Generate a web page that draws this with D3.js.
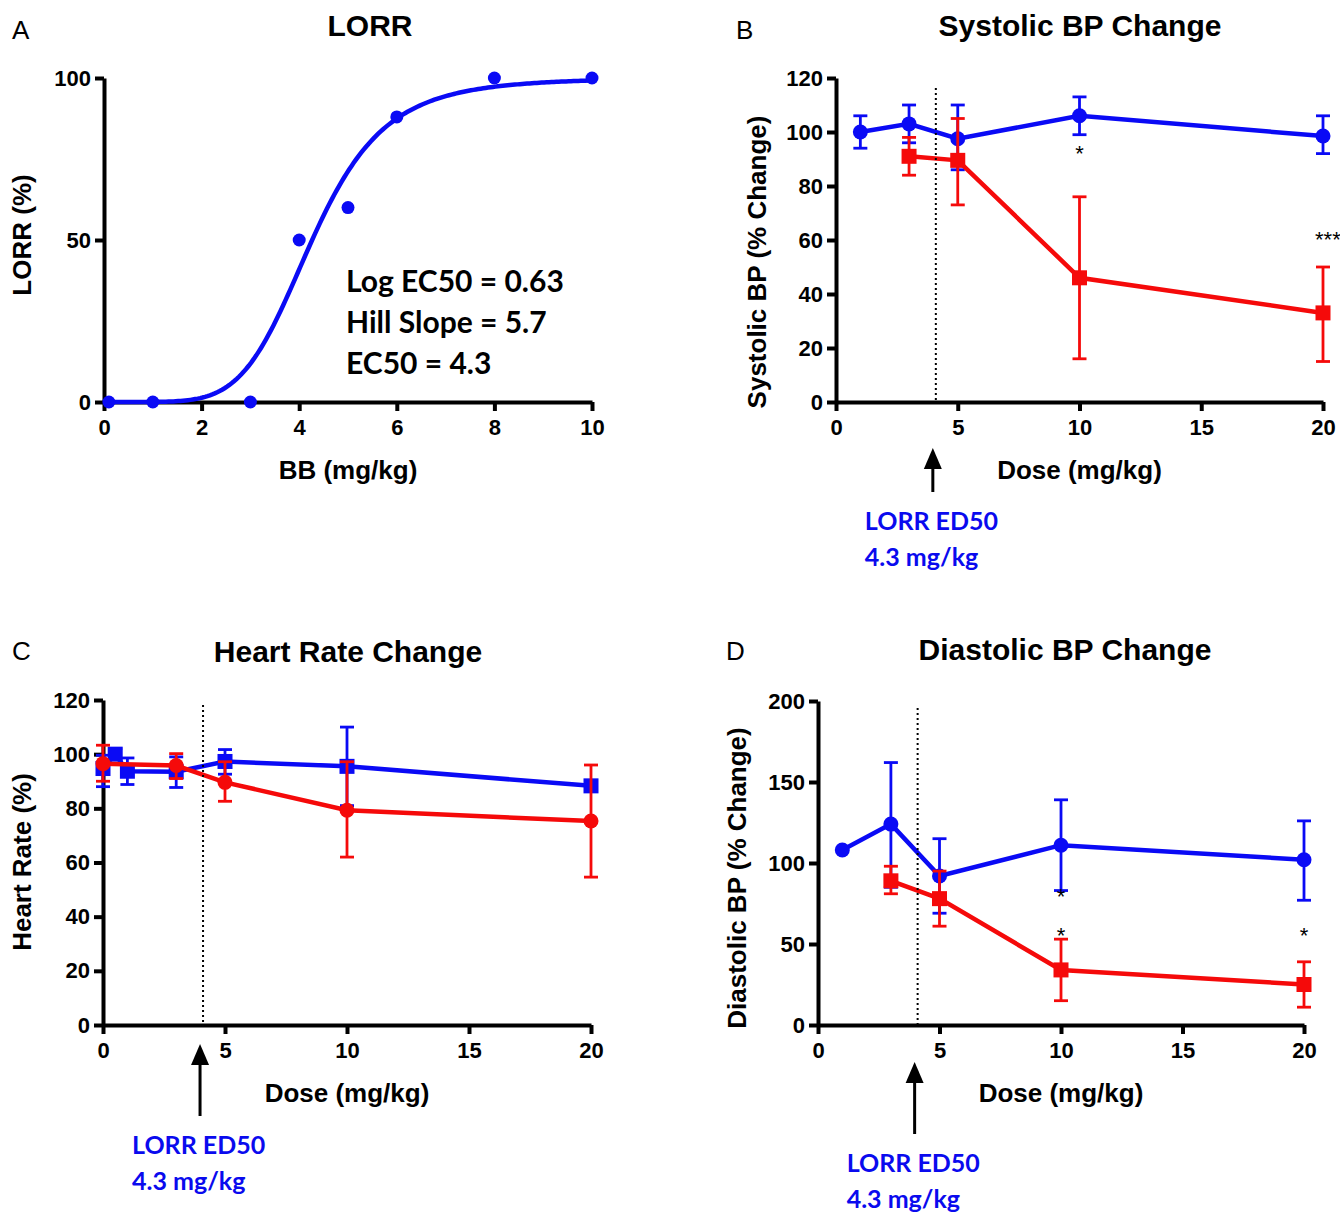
<!DOCTYPE html>
<html><head><meta charset="utf-8">
<script src="https://cdn.jsdelivr.net/npm/d3@7"></script>
<style>body{margin:0;background:#fff}</style>
</head><body>
<svg id="c" width="1340" height="1218"></svg>
<script>
// ---- Data ----
// Panel A: LORR dose response
const lorrDose = [0.1, 1, 3, 4, 5, 6, 8, 10];
const lorrPct = [0, 0, 0, 50, 60, 88, 100, 100];
const logEC50 = 0.63, hillSlope = 5.7;
const annotA = ["Log EC50 = 0.63", "Hill Slope = 5.7", "EC50 = 4.3"];
const ticksA_x = [0, 2, 4, 6, 8, 10];
const ticksA_y = [0, 50, 100];

// Panel B: Systolic BP
const sysDoseBlue = [1, 3, 5, 10, 20];
const sysBlue = [100, 103, 97.5, 106, 98.5];
const sysBlueLo = [94, 96, 86, 99, 92];
const sysBlueHi = [106, 110, 110, 113, 106];
const sysDoseRed = [3, 5, 10, 20];
const sysRed = [91, 89.5, 46, 33];
const sysRedLo = [84, 73, 16, 15];
const sysRedHi = [98, 105, 76, 50];
const sysStars = [{x: 10, y: 95, t: "*"}, {x: 20.2, y: 63, t: "***"}];

// Panel C: Heart rate
const hrDoseBlue = [0, 0.5, 1, 3, 5, 10, 20];
const hrBlue = [94.7, 100, 93.7, 93.5, 97.3, 95.5, 88.3];
const hrBlueLo = [88, 98, 88.8, 87.7, 92.6, 81, 88.3];
const hrBlueHi = [99.6, 102, 98.6, 99, 101.7, 110, 88.3];
const hrDoseRed = [0, 3, 5, 10, 20];
const hrRed = [96.5, 95.8, 89.6, 79.3, 75.3];
const hrRedLo = [90, 91, 82.6, 62, 54.6];
const hrRedHi = [103.3, 100.2, 97.2, 97.2, 96];

// Panel D: Diastolic BP
const diaDoseBlue = [1, 3, 5, 10, 20];
const diaBlue = [108, 124, 92, 111, 102];
const diaBlueLo = [108, 85, 69, 83, 77];
const diaBlueHi = [108, 162, 115, 139, 126];
const diaDoseRed = [3, 5, 10, 20];
const diaRed = [89, 78, 34, 25];
const diaRedLo = [81, 61, 15, 11];
const diaRedHi = [98, 95, 53, 39];
const diaStars = [{x: 10, y: 84, t: "*"}, {x: 10, y: 60, t: "*"}, {x: 20, y: 60, t: "*"}];

const doseTicks = [0, 5, 10, 15, 20];
const edDose = 4.1;
const edLabel = ["LORR ED50", "4.3 mg/kg"];

// ---- Drawing ----
const svg = d3.select("#c");
const BLUE = "#0a0af5", RED = "#f50a0a";
const FONT = "'Liberation Sans', Arial, sans-serif";
const FONT2 = "Lato, 'Open Sans', sans-serif";

function panel(o) {
  const g = svg.append("g");
  const x = d3.scaleLinear().domain(o.xd).range(o.xr);
  const y = d3.scaleLinear().domain(o.yd).range(o.yr);
  const xa = g.append("g").attr("transform", `translate(0,${o.yr[0]})`)
    .call(d3.axisBottom(x).tickValues(o.xt).tickSize(9).tickSizeOuter(0).tickPadding(5));
  const ya = g.append("g").attr("transform", `translate(${o.xr[0]},0)`)
    .call(d3.axisLeft(y).tickValues(o.yt).tickSize(9).tickSizeOuter(0).tickPadding(4));
  [xa, ya].forEach(a => {
    a.select(".domain").attr("stroke", "#000").attr("stroke-width", 4);
    a.selectAll(".tick line").attr("stroke", "#000").attr("stroke-width", 4);
    a.selectAll(".tick text").attr("fill", "#000").style("font-family", FONT)
      .style("font-weight", "bold").style("font-size", "22px");
  });
  xa.selectAll(".tick text").attr("dy", "0.85em");
  g.append("text").attr("x", o.titleX).attr("y", o.titleY).attr("text-anchor", "middle")
    .style("font-family", FONT).style("font-weight", "bold").style("font-size", "30px").text(o.title);
  g.append("text").attr("x", o.letterX).attr("y", o.letterY)
    .style("font-family", FONT).style("font-size", "26px").text(o.letter);
  g.append("text").attr("x", (o.xr[0] + o.xr[1]) / 2 + (o.xlabDx || 0)).attr("y", o.yr[0] + 77)
    .attr("text-anchor", "middle").style("font-family", FONT).style("font-weight", "bold")
    .style("font-size", "26px").text(o.xlab);
  g.append("text").attr("transform", `translate(${o.ylabX},${o.ylabY}) rotate(-90)`)
    .attr("text-anchor", "middle").style("font-family", FONT).style("font-weight", "bold")
    .style("font-size", "26px").text(o.ylab);
  return {g, x, y};
}

function series(p, xs, ys, lo, hi, color, shape) {
  const {g, x, y} = p;
  const cap = 7;
  const eg = g.append("g").attr("stroke", color).attr("stroke-width", 2.8).attr("fill", "none");
  xs.forEach((d, i) => {
    if (hi[i] - lo[i] < 0.5) return;
    eg.append("line").attr("x1", x(d)).attr("x2", x(d)).attr("y1", y(lo[i])).attr("y2", y(hi[i]));
    eg.append("line").attr("x1", x(d) - cap).attr("x2", x(d) + cap).attr("y1", y(lo[i])).attr("y2", y(lo[i]));
    eg.append("line").attr("x1", x(d) - cap).attr("x2", x(d) + cap).attr("y1", y(hi[i])).attr("y2", y(hi[i]));
  });
  g.append("path").datum(xs.map((d, i) => [d, ys[i]]))
    .attr("d", d3.line().x(d => x(d[0])).y(d => y(d[1])))
    .attr("fill", "none").attr("stroke", color).attr("stroke-width", 4.5);
  xs.forEach((d, i) => {
    if (shape === "circle") {
      g.append("circle").attr("cx", x(d)).attr("cy", y(ys[i])).attr("r", 7.5).attr("fill", color);
    } else {
      g.append("rect").attr("x", x(d) - 7.5).attr("y", y(ys[i]) - 7.5).attr("width", 15).attr("height", 15).attr("fill", color);
    }
  });
}

function edMarker(p, top, arrowTop, arrowBottom) {
  const {g, x, y} = p;
  const xx = x(edDose);
  g.append("line").attr("x1", xx).attr("x2", xx).attr("y1", top).attr("y2", y(0))
    .attr("stroke", "#000").attr("stroke-width", 2).attr("stroke-dasharray", "2,3");
  const ax = xx - 3;
  g.append("line").attr("x1", ax).attr("x2", ax).attr("y1", arrowTop + 18).attr("y2", arrowBottom)
    .attr("stroke", "#000").attr("stroke-width", 3);
  g.append("path").attr("d", `M${ax},${arrowTop} L${ax - 9},${arrowTop + 21} L${ax + 9},${arrowTop + 21} Z`).attr("fill", "#000");
  edLabel.forEach((t, i) => {
    g.append("text").attr("x", ax - 68).attr("y", arrowBottom + 38 + i * 36)
      .style("font-family", FONT2).style("font-weight", "bold").style("font-size", "25px")
      .attr("fill", "#0a0aee").text(t);
  });
}

function stars(p, arr) {
  arr.forEach(s => {
    p.g.append("text").attr("x", p.x(s.x)).attr("y", p.y(s.y)).attr("text-anchor", "middle")
      .attr("dy", "0.7em").style("font-family", FONT).style("font-size", "22px").text(s.t);
  });
}

// Panel A
const pA = panel({xd: [0, 10], xr: [104, 592], yd: [0, 100], yr: [402, 78], xt: ticksA_x, yt: ticksA_y,
  title: "LORR", titleX: 370, titleY: 36, letter: "A", letterX: 12, letterY: 39,
  xlab: "BB (mg/kg)", ylab: "LORR (%)", ylabX: 31, ylabY: 235});
const curve = d3.range(0.02, 10.001, 0.05).map(d => [d, 100 / (1 + Math.pow(10, (logEC50 - Math.log10(d)) * hillSlope))]);
pA.g.append("path").datum(curve).attr("d", d3.line().x(d => pA.x(d[0])).y(d => pA.y(d[1])))
  .attr("fill", "none").attr("stroke", BLUE).attr("stroke-width", 4.5);
lorrDose.forEach((d, i) => pA.g.append("circle").attr("cx", pA.x(d)).attr("cy", pA.y(lorrPct[i])).attr("r", 6.5).attr("fill", BLUE));
annotA.forEach((t, i) => pA.g.append("text").attr("x", 346).attr("y", 292 + i * 41)
  .style("font-family", FONT2).style("font-weight", "bold").style("font-size", "30px").text(t));

// Panel B
const pB = panel({xd: [0, 20], xr: [836, 1323], yd: [0, 120], yr: [402, 78], xt: doseTicks, yt: d3.range(0, 121, 20),
  title: "Systolic BP Change", titleX: 1080, titleY: 36, letter: "B", letterX: 736, letterY: 39,
  xlab: "Dose (mg/kg)", ylab: "Systolic BP (% Change)", ylabX: 766, ylabY: 262});
series(pB, sysDoseBlue, sysBlue, sysBlueLo, sysBlueHi, BLUE, "circle");
series(pB, sysDoseRed, sysRed, sysRedLo, sysRedHi, RED, "square");
stars(pB, sysStars);
edMarker(pB, 88, 448, 492);

// Panel C
const pC = panel({xd: [0, 20], xr: [103, 591], yd: [0, 120], yr: [1025, 700], xt: doseTicks, yt: d3.range(0, 121, 20),
  title: "Heart Rate Change", titleX: 348, titleY: 662, letter: "C", letterX: 12, letterY: 660,
  xlab: "Dose (mg/kg)", ylab: "Heart Rate (%)", ylabX: 31, ylabY: 862});
series(pC, hrDoseBlue, hrBlue, hrBlueLo, hrBlueHi, BLUE, "square");
series(pC, hrDoseRed, hrRed, hrRedLo, hrRedHi, RED, "circle");
edMarker(pC, 705, 1044, 1116);

// Panel D
const pD = panel({xd: [0, 20], xr: [818, 1304], yd: [0, 200], yr: [1025, 701], xt: doseTicks, yt: d3.range(0, 201, 50),
  title: "Diastolic BP Change", titleX: 1065, titleY: 660, letter: "D", letterX: 726, letterY: 660,
  xlab: "Dose (mg/kg)", ylab: "Diastolic  BP (% Change)", ylabX: 746, ylabY: 878});
series(pD, diaDoseBlue, diaBlue, diaBlueLo, diaBlueHi, BLUE, "circle");
series(pD, diaDoseRed, diaRed, diaRedLo, diaRedHi, RED, "square");
stars(pD, diaStars);
edMarker(pD, 708, 1062, 1134);
</script>
</body></html>
